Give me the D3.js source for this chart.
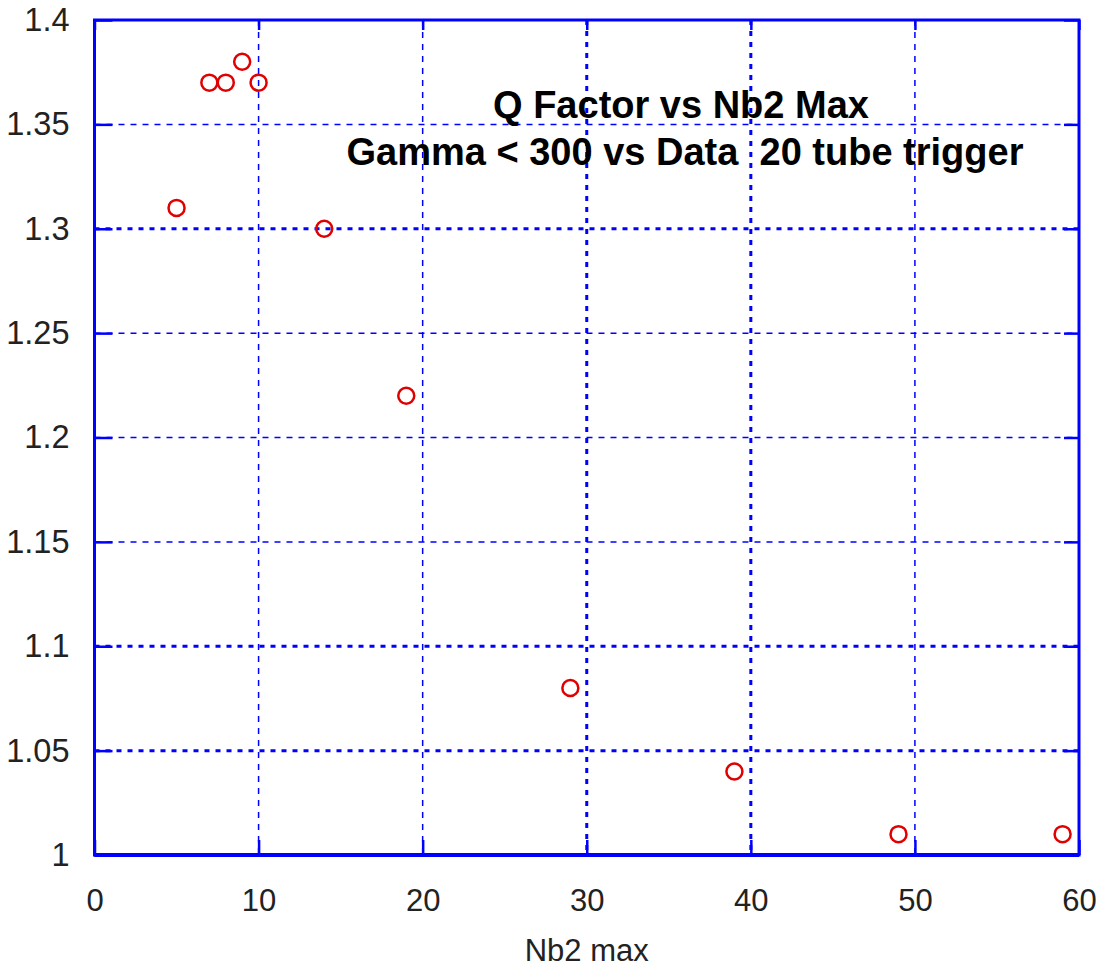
<!DOCTYPE html>
<html><head><meta charset="utf-8">
<script src="https://cdn.jsdelivr.net/npm/d3@7"></script>
<style>body{margin:0;background:#fff;}svg{display:block;}</style>
</head><body>
<script>
const xValues = [5, 7, 8, 9, 10, 14, 19, 29, 39, 49, 59];
const yValues = [1.31, 1.37, 1.37, 1.38, 1.37, 1.30, 1.22, 1.08, 1.04, 1.01, 1.01];
const xTicks = [0, 10, 20, 30, 40, 50, 60];
const yTicks = [1, 1.05, 1.1, 1.15, 1.2, 1.25, 1.3, 1.35, 1.4];
const yTickLabels = ["1", "1.05", "1.1", "1.15", "1.2", "1.25", "1.3", "1.35", "1.4"];
const thickX = [30, 40];
const thickY = [1.3, 1.1, 1.05];
const titleLines = ["Q Factor vs Nb2 Max", "Gamma < 300 vs Data  20 tube trigger"];
const xLabel = "Nb2 max";

const W = 1101, H = 967;
const L = 94.5, R = 1079, T = 20, B = 855;
const svg = d3.select("body").append("svg").attr("width", W).attr("height", H);
const x = d3.scaleLinear().domain([0, 60]).range([L, R]);
const y = d3.scaleLinear().domain([1, 1.4]).range([B, T]);
const blue = "#0000ff";
const font = "Liberation Sans, Arial, sans-serif";

// grid
const g = svg.append("g");
xTicks.filter(v => v > 0 && v < 60).forEach(v => {
  const thick = thickX.includes(v);
  g.append("line").attr("x1", x(v)).attr("x2", x(v)).attr("y1", T).attr("y2", B)
    .attr("stroke", blue).attr("stroke-width", thick ? 3 : 1.5)
    .attr("stroke-dasharray", thick ? "5,6" : "6,6");
});
yTicks.filter(v => v > 1 && v < 1.4).forEach(v => {
  const thick = thickY.includes(v);
  g.append("line").attr("y1", y(v)).attr("y2", y(v)).attr("x1", L).attr("x2", R)
    .attr("stroke", blue).attr("stroke-width", thick ? 3 : 1.5)
    .attr("stroke-dasharray", thick ? "5,6" : "6,6");
});

// axes with inner ticks
const axL = d3.axisLeft(y).tickValues(yTicks).tickSize(-18).tickPadding(25).tickFormat((d, i) => yTickLabels[i]);
const axR = d3.axisRight(y).tickValues(yTicks).tickSize(-15).tickFormat("");
const axB = d3.axisBottom(x).tickValues(xTicks).tickSize(-15).tickPadding(30).tickFormat(d3.format("d"));
const axT = d3.axisTop(x).tickValues(xTicks).tickSize(-10).tickFormat("");
function style(sel, fs) {
  sel.selectAll("path").attr("stroke", blue).attr("stroke-width", 3);
  sel.selectAll("line").attr("stroke", blue).attr("stroke-width", 2.5);
  sel.selectAll("text").attr("fill", "#222").style("font-family", font).style("font-size", fs + "px");
}
svg.append("g").attr("transform", `translate(${L},0)`).call(axL).call(style, 32.5);
svg.append("g").attr("transform", `translate(${R},0)`).call(axR).call(style, 30);
const gb = svg.append("g").attr("transform", `translate(0,${B})`).call(axB).call(style, 31);
gb.selectAll("text").attr("dy", null).attr("y", 56);
svg.append("g").attr("transform", `translate(0,${T})`).call(axT).call(style, 30);
svg.selectAll(".domain").attr("d", null);
svg.append("rect").attr("x", L).attr("y", T).attr("width", R - L).attr("height", B - T)
  .attr("fill", "none").attr("stroke", blue).attr("stroke-width", 3);
svg.append("line").attr("x1", L).attr("x2", R).attr("y1", B).attr("y2", B).attr("stroke", blue).attr("stroke-width", 4);

// points
svg.append("g").selectAll("circle").data(xValues).join("circle")
  .attr("cx", d => x(d)).attr("cy", (d, i) => y(yValues[i])).attr("r", 8)
  .attr("fill", "none").attr("stroke", "#e00000").attr("stroke-width", 2.5);

// title
svg.append("text").attr("x", 681).attr("y", 117.5).attr("text-anchor", "middle")
  .style("font-family", font).style("font-size", "38px").style("font-weight", "bold").text(titleLines[0]);
svg.append("text").attr("x", 685).attr("y", 165).attr("text-anchor", "middle")
  .style("font-family", font).style("font-size", "38px").style("font-weight", "bold")
  .attr("xml:space", "preserve").style("white-space", "pre").text(titleLines[1]);

// x label
svg.append("text").attr("x", x(30)).attr("y", 961).attr("text-anchor", "middle")
  .attr("fill", "#222").style("font-family", font).style("font-size", "31px").text(xLabel);
</script>
</body></html>
